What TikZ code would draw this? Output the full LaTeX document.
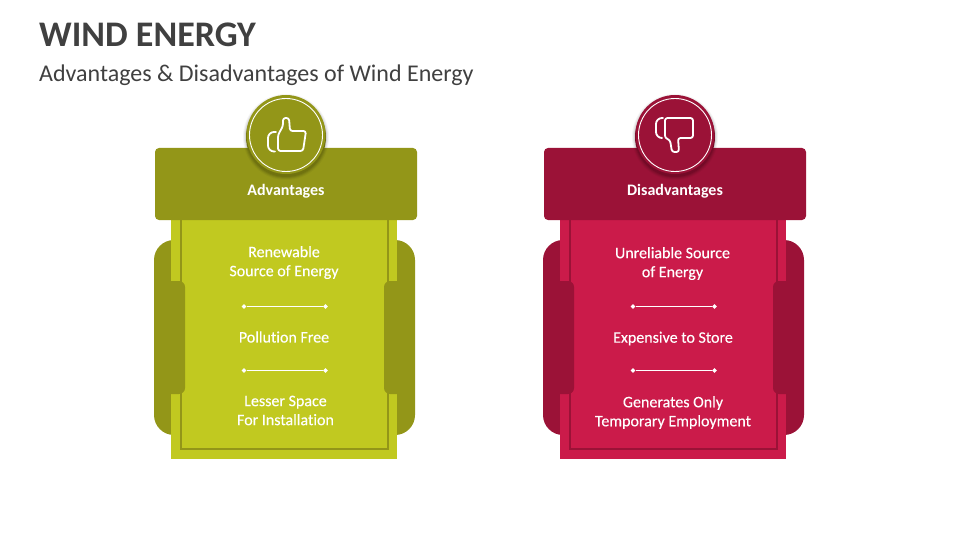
\documentclass[tikz,border=0pt]{standalone}
\usepackage{fontspec}
\setmainfont[Ligatures=NoCommon]{Carlito}
\newfontfamily\bodyfont[FakeBold=0.3,Ligatures=NoCommon]{Carlito}
\usetikzlibrary{shapes.geometric}
\definecolor{olive}{HTML}{939618}
\definecolor{lime}{HTML}{C1C920}
\definecolor{olivedk}{HTML}{70720F}
\definecolor{wine}{HTML}{9B1237}
\definecolor{crimson}{HTML}{CB1B4A}
\definecolor{winedk}{HTML}{740A27}
\definecolor{titlegrey}{HTML}{404040}
\tikzset{
  x=1pt,y=-1pt,
  titletext/.style={anchor=west,inner sep=0pt,text=titlegrey,font=\fontsize{36}{40}\selectfont\bfseries},
  subtext/.style={anchor=west,inner sep=0pt,text=titlegrey,font=\fontsize{24}{28}\selectfont},
  itemtext/.style={inner sep=0pt,text=white,align=center,font=\bodyfont\fontsize{16}{19}\selectfont},
  headtext/.style={inner sep=0pt,text=white,font=\fontsize{16}{19}\selectfont\bfseries},
  tick/.style={diamond,fill=white,inner sep=0pt,minimum size=5pt},
  rule/.style={draw=white,line width=1pt},
  icon/.style={draw=white,line width=1.8pt,rounded corners=2.5pt,line cap=round,line join=round},
  cuff/.style={icon,rounded corners=6pt},
}
% #1 x shift, #2 dark, #3 light, #4 shadow
\newcommand{\panelbody}[4]{%
  \begin{scope}[xshift=#1pt]
    \fill[#2,rounded corners=20pt] (154,240) rectangle (415,435);
    \fill[#3] (171,220) rectangle (397,459);
    \draw[#2,line width=1.5pt] (181,220) -- (181,449) -- (388,449) -- (388,220);
    \fill[#2] (171,281) -- (179,281) [rounded corners=6pt] -- (185,281) -- (185,394) [sharp corners] -- (171,394) -- cycle;
    \fill[#2] (397,281) -- (390,281) [rounded corners=6pt] -- (384,281) -- (384,394) [sharp corners] -- (397,394) -- cycle;
    \fill[#2,rounded corners=4pt] (155,148) rectangle (417,220);
    \foreach \r/\o in {43/.04,42/.06,41/.08}{\fill[black,opacity=\o] (286,137) circle[radius=\r pt];}
    \fill[#4] (286,137) circle[radius=40pt];
    \fill[#2] (286,134.5) circle[radius=39.5pt];
    \draw[white,line width=.9pt] (286,135) circle[radius=36.5pt];
  \end{scope}}
\begin{document}
\begin{tikzpicture}
\useasboundingbox (0,0) rectangle (960,540);
\fill[white] (0,0) rectangle (960,540);
\node[titletext] (title) at (39,35) {WIND ENERGY};
\node[subtext] (subtitle) at (39,75.5) {Advantages \& Disadvantages of Wind Energy};

\panelbody{0}{olive}{lime}{olivedk}
\panelbody{389}{wine}{crimson}{winedk}

% thumb up
\begin{scope}[shift={(286,135)}]
  \draw[icon] (-8,0) -- (-3,-9) -- (-3,-17) -- (3,-17) -- (4,-4) -- (20,-4) -- (17,16) -- (-8,16) -- cycle;
  \draw[cuff] (-10,-3) -- (-18,-3) -- (-18,16.5) -- (-11,16.5);
\end{scope}
% thumb down
\begin{scope}[shift={(675,135)}]
  \draw[icon] (-10,3) -- (-5,5) -- (-3,17) -- (4,17) -- (3,3) -- (18,3) -- (18,-17) -- (-10,-17) -- cycle;
  \draw[cuff] (-12,-17) -- (-19,-17) -- (-19,3) -- (-13,3);
\end{scope}

\node[headtext] (advhead) at (286,191.5) {Advantages};
\node[itemtext] (adv1) at (284,262.5) {Renewable\\Source of Energy};
\node[tick] (a1l) at (244,306.5) {};
\node[tick] (a1r) at (325.5,306.5) {};
\draw[rule] (a1l) -- (a1r);
\node[itemtext] (adv2) at (284,337) {Pollution Free};
\node[tick] (a2l) at (244,370.5) {};
\node[tick] (a2r) at (325.5,370.5) {};
\draw[rule] (a2l) -- (a2r);
\node[itemtext] (adv3) at (285.5,410.5) {Lesser Space\\For Installation};

\node[headtext] (dishead) at (675,191.5) {Disadvantages};
\node[itemtext] (dis1) at (672.5,263.5) {Unreliable Source\\of Energy};
\node[tick] (d1l) at (633,306.5) {};
\node[tick] (d1r) at (714.5,306.5) {};
\draw[rule] (d1l) -- (d1r);
\node[itemtext] (dis2) at (673,338.5) {Expensive to Store};
\node[tick] (d2l) at (633,370.5) {};
\node[tick] (d2r) at (714.5,370.5) {};
\draw[rule] (d2l) -- (d2r);
\node[itemtext] (dis3) at (673,412.5) {Generates Only\\Temporary Employment};
\end{tikzpicture}
\end{document}
